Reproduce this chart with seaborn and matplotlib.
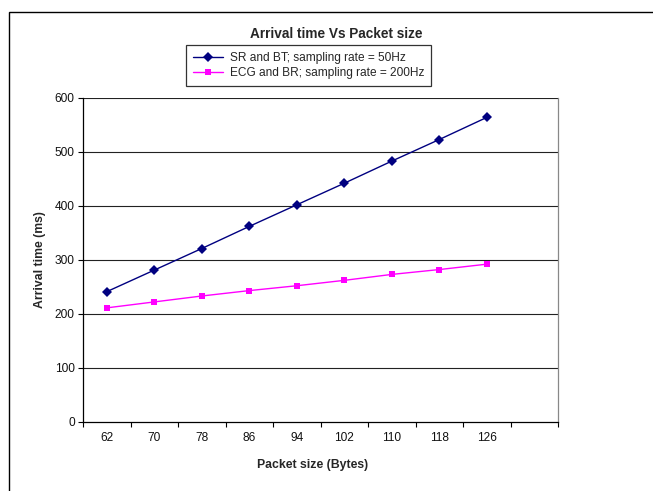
import matplotlib
matplotlib.use("Agg")
import matplotlib.pyplot as plt
import seaborn as sns
import pandas as pd
from matplotlib.patches import Rectangle
from matplotlib.lines import Line2D

packet_sizes = ["62", "70", "78", "86", "94", "102", "110", "118", "126"]
sr_bt = [241, 281, 321, 362, 402, 442, 483, 523, 564]
ecg_br = [211, 222, 233, 243, 252, 262, 273, 282, 292]
series_names = ["SR and BT; sampling rate = 50Hz", "ECG and BR; sampling rate = 200Hz"]
y_ticks = [0, 100, 200, 300, 400, 500, 600]
title = "Arrival time Vs Packet size"
x_label = "Packet size (Bytes)"
y_label = "Arrival time (ms)"

sns.set_theme(style="white")
plt.rcParams["font.family"] = ["Liberation Sans", "DejaVu Sans"]

W, H = 653, 491
fig = plt.figure(figsize=(W / 100, H / 100), dpi=100)
fig.patch.set_facecolor("white")

left, right, top, bottom = 83, 558, 98, 421.7
ax = fig.add_axes([left / W, 1 - bottom / H, (right - left) / W, (bottom - top) / H])

rows = []
for i, p in enumerate(packet_sizes):
    rows.append({"pos": i, "value": sr_bt[i], "series": series_names[0]})
    rows.append({"pos": i, "value": ecg_br[i], "series": series_names[1]})
df = pd.DataFrame(rows)

colors = ["#000080", "#FF00FF"]
sns.lineplot(data=df, x="pos", y="value", hue="series", style="series",
             markers={series_names[0]: "D", series_names[1]: "s"}, dashes=False,
             palette=colors, ax=ax, linewidth=1.0, markersize=5,
             markeredgewidth=0, legend=False)

n_cat = 10
ax.set_xlim(-0.5, n_cat - 0.5)
ax.set_ylim(0, 600)
ax.set_yticks(y_ticks)
ax.set_yticklabels([str(t) for t in y_ticks], fontsize=8.6)
ax.set_xticks([i - 0.5 for i in range(n_cat + 1)])
ax.set_xticklabels([""] * (n_cat + 1))
ax.set_xticks(list(range(len(packet_sizes))), minor=True)
ax.set_xticklabels(packet_sizes, minor=True, fontsize=8.6)
ax.tick_params(axis="x", which="major", direction="out", length=3.5, width=0.8, color="black", bottom=True)
ax.tick_params(axis="x", which="minor", length=0, pad=7.5, labelcolor="#111111")
ax.tick_params(axis="y", direction="out", length=3.5, width=0.8, color="black", left=True, pad=2.5, labelcolor="#111111")

ax.grid(False)
for t in y_ticks[1:]:
    ax.axhline(t, color="#222222", linewidth=0.8, zorder=0)

ax.spines["left"].set_color("black")
ax.spines["left"].set_linewidth(0.9)
ax.spines["bottom"].set_color("black")
ax.spines["bottom"].set_linewidth(0.9)
ax.spines["right"].set_color("#888888")
ax.spines["right"].set_linewidth(0.9)
ax.spines["top"].set_visible(False)

ax.set_xlabel(x_label, fontsize=8.8, fontweight="bold")
ax.set_ylabel(y_label, fontsize=8.8, fontweight="bold")
ax.xaxis.set_label_coords((313 - left) / (right - left), -(459 - bottom) / (bottom - top))
ax.yaxis.set_label_coords(-(left - 46) / (right - left), 0.5)

fig.text(336 / W, 1 - 34 / H, title, ha="center", va="center", fontsize=9.8, fontweight="bold")

handles = [Line2D([0], [0], color=colors[0], marker="D", markersize=5, linewidth=1.0, markeredgewidth=0),
           Line2D([0], [0], color=colors[1], marker="s", markersize=5, linewidth=1.0, markeredgewidth=0)]
leg = fig.legend(handles, series_names, loc="upper left", bbox_to_anchor=(186 / W, 1 - 45 / H),
                 fontsize=8.6, frameon=True, fancybox=False, edgecolor="black", borderpad=0.6,
                 handlelength=2.5, handletextpad=0.55, labelspacing=0.25, borderaxespad=0)
leg.get_frame().set_linewidth(0.9)

fig.patches.append(Rectangle((9 / W, -0.1), 1.2, (1 - 12 / H) + 0.1, transform=fig.transFigure,
                             fill=False, edgecolor="black", linewidth=1.0))

fig.savefig("out.png", dpi=100)
